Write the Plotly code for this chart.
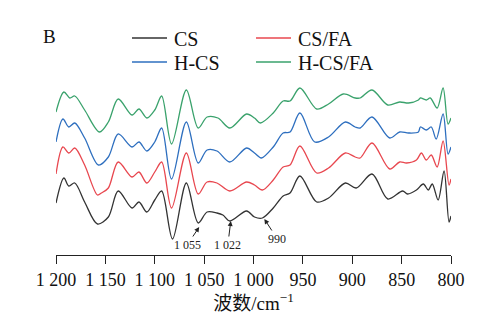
import plotly.graph_objects as go

# ---- data (wavenumber cm^-1, relative transmittance a.u., curves offset) ----
names = ["CS", "CS/FA", "H-CS", "H-CS/FA"]
colors = ["#333333", "#e8474f", "#2e6fbf", "#3aa26c"]

wn_cs = [1200, 1192, 1187, 1181, 1171, 1158, 1147, 1137, 1123, 1116, 1108, 1100, 1093,
         1082, 1068, 1056, 1047, 1037, 1031, 1024, 1007, 999, 991, 980, 970, 963, 953,
         936, 924, 907, 896, 880, 864, 849, 844, 835, 828, 823, 819, 813, 807, 802, 800]
t_cs = [0.52, 0.77, 0.69, 0.72, 0.53, 0.31, 0.38, 0.64, 0.47, 0.53, 0.43, 0.55, 0.64,
        0.16, 0.72, 0.32, 0.43, 0.42, 0.40, 0.34, 0.44, 0.38, 0.37, 0.47, 0.59, 0.62, 0.79,
        0.53, 0.57, 0.72, 0.67, 0.81, 0.56, 0.64, 0.61, 0.65, 0.71, 0.65, 0.71, 0.55, 0.84, 0.33, 0.39]

wn_csfa = [1200, 1193, 1187, 1181, 1171, 1158, 1154, 1147, 1137, 1123, 1116, 1108, 1100, 1093,
           1083, 1068, 1056, 1047, 1037, 1024, 1007, 999, 991, 980, 970, 963, 953,
           936, 924, 907, 897, 892, 880, 862, 852, 845, 835, 830, 825, 820, 814, 808, 802, 800]
t_csfa = [0.81, 1.08, 1.02, 1.07, 0.90, 0.60, 0.62, 0.67, 0.93, 0.78, 0.83, 0.72, 0.83, 0.93,
          0.47, 1.02, 0.61, 0.73, 0.72, 0.64, 0.73, 0.70, 0.65, 0.75, 0.88, 0.90, 1.09,
          0.82, 0.87, 1.02, 0.98, 0.97, 1.12, 0.86, 0.93, 0.92, 0.95, 1.02, 0.95, 1.00, 0.88, 1.14, 0.70, 0.76]

wn_hcs = [1200, 1193, 1187, 1181, 1171, 1157, 1147, 1137, 1123, 1116, 1108, 1100, 1093,
          1083, 1068, 1056, 1047, 1037, 1024, 1007, 999, 992, 980, 970, 963, 953,
          938, 924, 907, 897, 892, 880, 862, 852, 843, 833, 831, 825, 820, 815, 808, 803, 800]
t_hcs = [1.13, 1.36, 1.28, 1.32, 1.17, 0.90, 0.98, 1.21, 1.08, 1.13, 1.04, 1.13, 1.27,
         0.76, 1.33, 0.92, 1.05, 1.04, 0.93, 1.07, 1.02, 0.97, 1.08, 1.22, 1.23, 1.42,
         1.13, 1.18, 1.33, 1.28, 1.27, 1.38, 1.17, 1.23, 1.22, 1.23, 1.28, 1.25, 1.28, 1.16, 1.41, 1.01, 1.08]

wn_hcsfa = [1200, 1192, 1186, 1181, 1171, 1156, 1147, 1137, 1123, 1116, 1108, 1100, 1093,
            1083, 1068, 1056, 1047, 1036, 1024, 1007, 999, 993, 980, 970, 963, 953,
            936, 924, 909, 897, 892, 880, 864, 852, 843, 833, 831, 825, 821, 814, 808, 803, 800]
t_hcsfa = [1.43, 1.63, 1.57, 1.59, 1.45, 1.23, 1.33, 1.56, 1.40, 1.46, 1.37, 1.45, 1.59,
           1.11, 1.65, 1.27, 1.38, 1.37, 1.27, 1.41, 1.37, 1.32, 1.42, 1.54, 1.54, 1.67,
           1.46, 1.51, 1.61, 1.57, 1.57, 1.65, 1.50, 1.53, 1.52, 1.55, 1.57, 1.55, 1.57, 1.47, 1.67, 1.31, 1.37]

tick_vals = [1200, 1150, 1100, 1050, 1000, 950, 900, 850, 800]
tick_text = ["1 200", "1 150", "1 100", "1 050", "1 000", "950", "900", "850", "800"]

# peak annotations: label, wavenumber of arrow head, value at arrow head
peak_labels = ["1 055", "1 022", "990"]
peak_wn = [1055, 1023, 989]
peak_t = [0.28, 0.34, 0.36]

series_x = [wn_cs, wn_csfa, wn_hcs, wn_hcsfa]
series_y = [t_cs, t_csfa, t_hcs, t_hcsfa]

SERIF = "Liberation Serif, Times New Roman, serif"

fig = go.Figure()
for nm, c, xs, ys in zip(names, colors, series_x, series_y):
    fig.add_trace(go.Scatter(x=xs, y=ys, mode="lines", name=nm,
                             line=dict(color=c, width=1.3, shape="spline", smoothing=0.9),
                             showlegend=False))

# manual legend (2 x 2)
W, H = 487, 321
L, R, T, B = 56, 36, 80, 66
pw, ph = W - L - R, H - T - B
def px(xp):
    return (xp - L) / pw
def py(yp):
    return (H - B - yp) / ph

leg_pos = [(132, 38), (256, 38), (132, 62), (256, 62)]
for nm, c, (lx, ly) in zip(names, colors, leg_pos):
    fig.add_shape(type="line", xref="paper", yref="paper",
                  x0=px(lx), x1=px(lx + 35), y0=py(ly), y1=py(ly),
                  line=dict(color=c, width=1.3))
    fig.add_annotation(xref="paper", yref="paper", x=px(lx + 40), y=py(ly + 1),
                       text=nm, showarrow=False, xanchor="left", yanchor="middle",
                       font=dict(family=SERIF, size=20, color="#111"))

fig.add_annotation(xref="paper", yref="paper", x=px(49), y=py(36), text="B",
                   showarrow=False, xanchor="center", yanchor="middle",
                   font=dict(family=SERIF, size=19, color="#111"))

offs = [(-12, 18), (-3, 24), (13, 20)]
for lab, w, t, (ax, ay) in zip(peak_labels, peak_wn, peak_t, offs):
    fig.add_annotation(x=w, y=t, text=lab, showarrow=True, ax=ax, ay=ay,
                       arrowhead=2, arrowsize=1, arrowwidth=1, arrowcolor="#222",
                       font=dict(family=SERIF, size=12, color="#222"))

fig.update_layout(
    width=W, height=H, margin=dict(l=L, r=R, t=T, b=B),
    paper_bgcolor="white", plot_bgcolor="white",
    xaxis=dict(range=[1200, 800], tickvals=tick_vals, ticktext=tick_text,
               ticks="outside", ticklen=8, tickwidth=1.2, tickcolor="#222",
               showline=True, linecolor="#222", linewidth=1.2, showgrid=False, zeroline=False,
               tickfont=dict(family=SERIF, size=18, color="#111"),
               title=dict(text="波数/cm<sup>−1</sup>", standoff=4,
                          font=dict(family="Liberation Serif, Noto Sans CJK SC, serif", size=19, color="#111"))),
    yaxis=dict(range=[0, 1.75], visible=False),
)

fig.write_html("out.html")
